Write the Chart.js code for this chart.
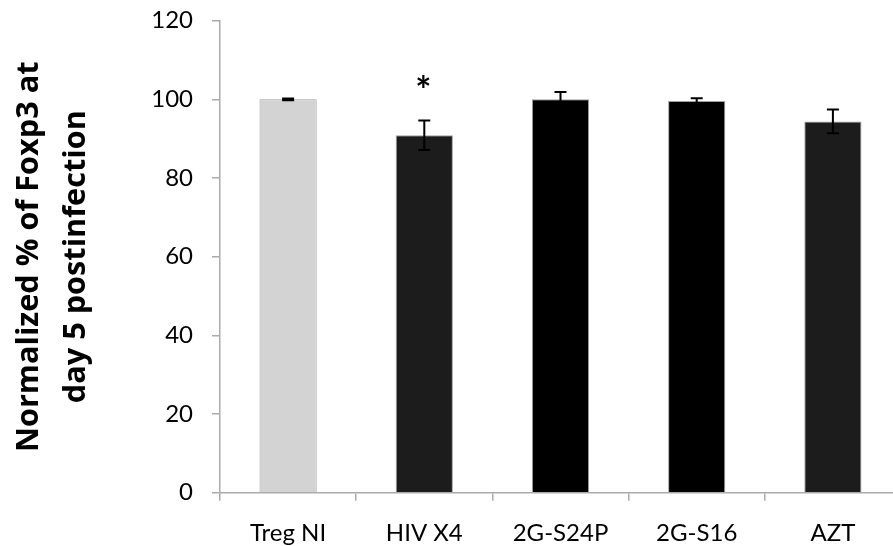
<!DOCTYPE html>
<html>
<head>
<meta charset="utf-8">
<script src="https://cdn.jsdelivr.net/npm/chart.js@4.4.1/dist/chart.umd.min.js"></script>
<style>
  html, body { margin: 0; padding: 0; background: #ffffff; overflow: hidden; }
  #wrap { width: 893px; height: 546px; overflow: hidden; }
  canvas { display: block; }
</style>
</head>
<body>
<div id="wrap"><canvas id="c" width="901" height="546"></canvas></div>
<script>
const categories = ['Treg NI', 'HIV X4', '2G-S24P', '2G-S16', 'AZT'];
const values = [100, 90.9, 100, 99.6, 94.4];
const errors = [0.25, 3.75, 1.9, 0.7, 3.0];
const barColors = ['#d3d3d3', '#1c1c1c', '#000000', '#000000', '#1c1c1c'];
const significance = ['', '*', '', '', ''];
const yTicks = [0, 20, 40, 60, 80, 100, 120];
const yTitle = ['Normalized % of Foxp3 at', 'day 5 postinfection'];

const axisGray = '#ababab';
const FONT = 'Lato, "Open Sans", sans-serif';
const TITLE_FONT = '"Open Sans", Lato, sans-serif';

// fit the axis-title font so its first line spans the same length as the original
const mctx = document.createElement('canvas').getContext('2d');
mctx.font = 'bold 100px ' + TITLE_FONT;
const titleSize = Math.round(100 * 391 / mctx.measureText(yTitle[0]).width * 10) / 10;

const errorBarPlugin = {
  id: 'errorBars',
  afterDatasetsDraw(chart) {
    const ctx = chart.ctx;
    const meta = chart.getDatasetMeta(0);
    const y = chart.scales.y;
    ctx.save();
    ctx.strokeStyle = '#000000';
    ctx.lineWidth = 2;
    meta.data.forEach((bar, i) => {
      const x = bar.x;
      const top = y.getPixelForValue(values[i] + errors[i]);
      const bot = y.getPixelForValue(values[i] - errors[i]);
      const cap = 6;
      ctx.beginPath();
      ctx.moveTo(x, top); ctx.lineTo(x, bot);
      ctx.moveTo(x - cap, top); ctx.lineTo(x + cap, top);
      ctx.moveTo(x - cap, bot); ctx.lineTo(x + cap, bot);
      ctx.stroke();
      if (significance[i]) {
        ctx.fillStyle = '#000000';
        ctx.font = 'bold 38px ' + FONT;
        ctx.textAlign = 'center';
        ctx.textBaseline = 'alphabetic';
        ctx.fillText(significance[i], x - 1, top - 16);
      }
    });
    ctx.restore();
  }
};

new Chart(document.getElementById('c'), {
  type: 'bar',
  data: {
    labels: categories,
    datasets: [{
      data: values,
      backgroundColor: barColors,
      borderColor: '#a0a0a0',
      borderWidth: 1,
      borderSkipped: 'bottom',
      barPercentage: 0.42,
      categoryPercentage: 1.0
    }]
  },
  options: {
    responsive: false,
    animation: false,
    devicePixelRatio: 1,
    layout: { padding: { top: 20.7, right: 0, left: 0, bottom: 0 } },
    plugins: { legend: { display: false }, tooltip: { enabled: false } },
    scales: {
      x: {
        grid: { display: true, drawOnChartArea: false, drawTicks: true, tickLength: 8, color: axisGray, lineWidth: 1.5, offset: true },
        border: { display: true, color: axisGray, width: 1.5 },
        ticks: { color: '#000000', font: { family: FONT, size: 24 }, padding: 18, maxRotation: 0, autoSkip: false },
        afterFit(scale) { scale.height = 53.3; scale.paddingLeft = 0; scale.paddingRight = 0; }
      },
      y: {
        min: 0, max: 120,
        afterBuildTicks(scale) { scale.ticks = yTicks.map(v => ({ value: v })); },
        grid: { display: true, drawOnChartArea: false, drawTicks: true, tickLength: 8, color: axisGray, lineWidth: 1.5 },
        border: { display: true, color: axisGray, width: 1.5 },
        ticks: { color: '#000000', font: { family: FONT, size: 24 }, padding: 19 },
        title: {
          display: true,
          text: yTitle,
          color: '#000000',
          font: { family: TITLE_FONT, size: titleSize, weight: 'bold', lineHeight: 47 / titleSize },
          padding: { top: 6, bottom: 0 }
        },
        afterFit(scale) { scale.width = 220; scale.paddingTop = 0; scale.paddingBottom = 0; }
      }
    }
  },
  plugins: [errorBarPlugin]
});
</script>
</body>
</html>
